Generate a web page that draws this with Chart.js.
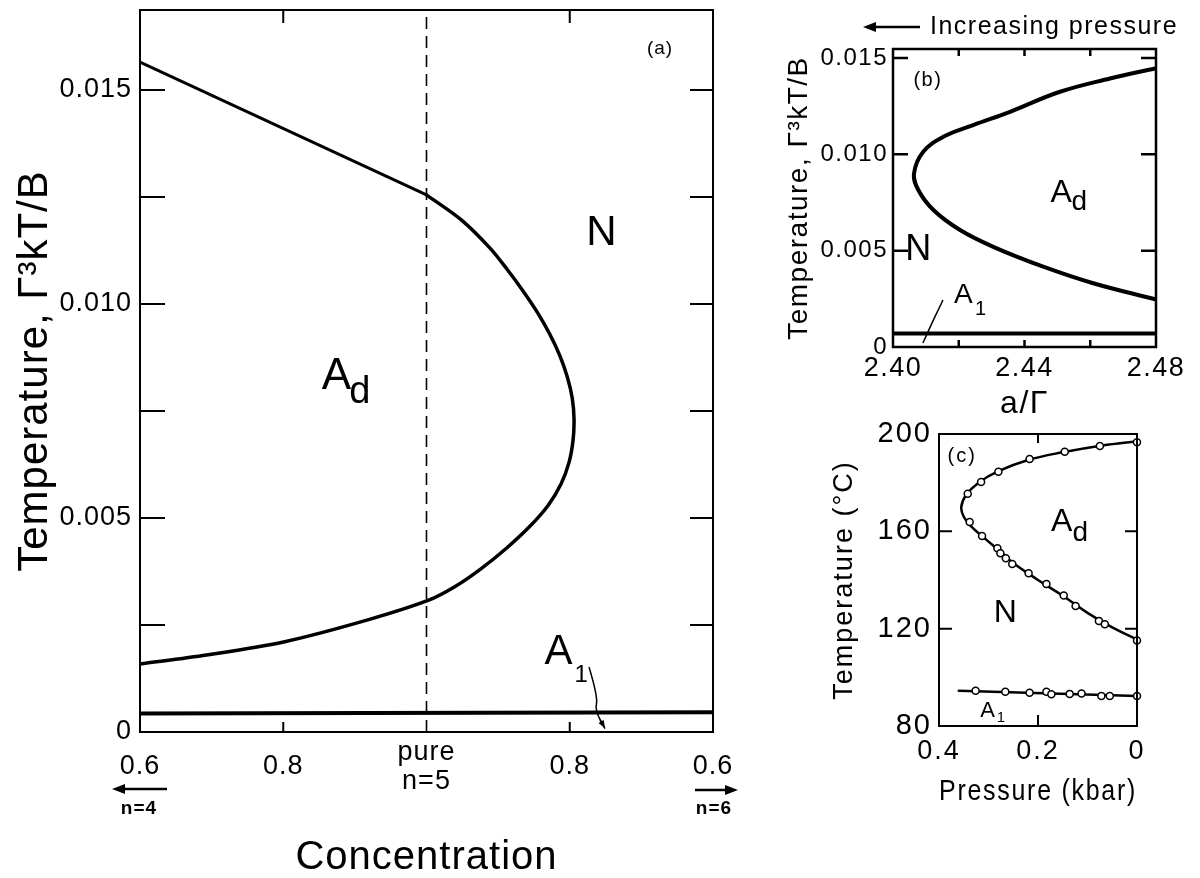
<!DOCTYPE html>
<html><head><meta charset="utf-8">
<script src="https://cdn.jsdelivr.net/npm/chart.js@4.4.0/dist/chart.umd.min.js"></script>
<style>
html,body{margin:0;padding:0;background:#fff;}
#wrap{position:relative;width:1200px;height:878px;overflow:hidden;background:#fff;}
.c{position:absolute;}
</style></head><body>
<div id="wrap">
<canvas id="ca" class="c" width="760" height="878" style="left:0;top:0"></canvas>
<canvas id="cb" class="c" width="440" height="420" style="left:760px;top:0"></canvas>
<canvas id="cc" class="c" width="440" height="458" style="left:760px;top:420px"></canvas>
</div>
<script>
// ---------- Panel (a): concentration (0.6 n=4 ... pure n=5 ... 0.6 n=6 mapped to 0.6..1.4) ----------
const aUpperC = [0.6, 1.0];
const aUpperT = [0.01565, 0.01255];
const aCurveC = [1.000, 1.049, 1.089, 1.113, 1.135, 1.155, 1.172, 1.186, 1.1965, 1.2035, 1.206, 1.2045, 1.199, 1.188, 1.170, 1.144, 1.112, 1.075, 1.040, 1.003, 0.918, 0.802, 0.693, 0.6];
const aCurveT = [0.01255, 0.01196, 0.0113, 0.0108, 0.0103, 0.0098, 0.0093, 0.0088, 0.0083, 0.0078, 0.0073, 0.0068, 0.0063, 0.0058, 0.0053, 0.0048, 0.0043, 0.0038, 0.0034, 0.00308, 0.00262, 0.00211, 0.0018, 0.00159];
const aA1C = [0.6, 1.4];
const aA1T = [0.00043, 0.00046];
const aPureC = [1.0, 1.0];
const aPureT = [0, 0.01687];
const aYTicks = [0, 0.005, 0.010, 0.015];
const aYLabels = ['0', '0.005', '0.010', '0.015'];
const aYMinor = [0.0025, 0.005, 0.0075, 0.010, 0.0125, 0.015];
const aXTicks = [0.6, 0.8, 1.0, 1.2, 1.4];
const aXLabels = ['0.6', '0.8', ['pure', 'n=5'], '0.8', '0.6'];
const aXMinor = [0.8, 1.2];

// ---------- Panel (b): a/Gamma ----------
const bCurveA = [2.4797, 2.466, 2.4508, 2.4356, 2.4244, 2.4153, 2.4092, 2.4064, 2.4077, 2.4123, 2.4204, 2.4305, 2.4457, 2.4609, 2.4797];
const bCurveT = [0.01446, 0.01394, 0.01325, 0.01221, 0.01152, 0.01091, 0.01013, 0.00901, 0.00815, 0.00711, 0.00607, 0.0052, 0.00417, 0.00331, 0.00248];
const bA1A = [2.40, 2.48];
const bA1T = [0.0007, 0.0007];
const bYTicks = [0, 0.005, 0.010, 0.015];
const bYLabels = ['0', '0.005', '0.010', '0.015'];
const bXTicks = [2.40, 2.44, 2.48];
const bXLabels = ['2.40', '2.44', '2.48'];
const bXMinor = [2.42, 2.44, 2.46];

// ---------- Panel (c): pressure (kbar) vs temperature (C) ----------
const cCurveP = [0.0, 0.07, 0.15, 0.22, 0.28, 0.32, 0.345, 0.355, 0.35, 0.335, 0.31, 0.275, 0.25, 0.2, 0.15, 0.1, 0.05, 0.0];
const cCurveT = [197, 195.3, 192.5, 189.3, 184.7, 180, 175, 170, 166, 162, 157.5, 151.5, 147, 140, 133.5, 126.5, 120.5, 115.5];
const cPtsP = [0.0, 0.075, 0.146, 0.217, 0.28, 0.315, 0.342, 0.338, 0.313, 0.282, 0.276, 0.265, 0.252, 0.219, 0.183, 0.148, 0.124, 0.077, 0.065, 0.0];
const cPtsT = [196.6, 195.1, 192.7, 189.7, 184.5, 180.3, 175.4, 163.8, 158.1, 153.0, 151.0, 148.9, 146.6, 142.8, 138.4, 133.6, 129.3, 123.2, 121.8, 115.1];
const cA1LineP = [0.36, 0.0];
const cA1LineT = [94.5, 92.3];
const cA1PtsP = [0.326, 0.266, 0.217, 0.183, 0.173, 0.136, 0.112, 0.072, 0.055, 0.0];
const cA1PtsT = [94.5, 94.1, 93.7, 94.1, 93.0, 93.2, 93.4, 92.3, 92.3, 92.3];
const cYTicks = [80, 120, 160, 200];
const cYLabels = ['80', '120', '160', '200'];
const cYMinor = [120, 160];
const cXTicks = [0, 0.2, 0.4];
const cXLabels = ['0', '0.2', '0.4'];
const cXMinor = [0.2];

const FONT = "'Liberation Sans', Arial, sans-serif";
const zip = (xs, ys) => xs.map((v, i) => ({x: v, y: ys[i]}));

function arrow(ctx, x1, y1, x2, y2, head, half) {
  const ang = Math.atan2(y2 - y1, x2 - x1);
  ctx.beginPath();
  ctx.moveTo(x1, y1);
  ctx.lineTo(x2 - Math.cos(ang) * head * 0.6, y2 - Math.sin(ang) * head * 0.6);
  ctx.stroke();
  ctx.beginPath();
  ctx.moveTo(x2, y2);
  ctx.lineTo(x2 - Math.cos(ang) * head - Math.sin(ang) * half, y2 - Math.sin(ang) * head + Math.cos(ang) * half);
  ctx.lineTo(x2 - Math.cos(ang) * head + Math.sin(ang) * half, y2 - Math.sin(ang) * head - Math.cos(ang) * half);
  ctx.closePath();
  ctx.fill();
}

const framePlugin = {
  id: 'frame',
  beforeDraw(chart, args, o) {
    chart.ctx.letterSpacing = o.ls || '0px';
  },
  afterDatasetsDraw(chart, args, o) {
    const {ctx, chartArea: ca, scales: {x, y}} = chart;
    ctx.save();
    ctx.strokeStyle = '#000';
    ctx.fillStyle = '#000';
    ctx.lineWidth = o.lw;
    ctx.strokeRect(ca.left, ca.top, ca.right - ca.left, ca.bottom - ca.top);
    ctx.beginPath();
    (o.yTicks || []).forEach(v => {
      const py = y.getPixelForValue(v);
      if (o.yl) { ctx.moveTo(ca.left, py); ctx.lineTo(ca.left + o.yl, py); }
      if (o.yr) { ctx.moveTo(ca.right, py); ctx.lineTo(ca.right - o.yr, py); }
    });
    (o.xTicks || []).forEach(v => {
      const px = x.getPixelForValue(v);
      if (o.xb) { ctx.moveTo(px, ca.bottom); ctx.lineTo(px, ca.bottom - o.xb); }
      if (o.xt) { ctx.moveTo(px, ca.top); ctx.lineTo(px, ca.top + o.xt); }
    });
    ctx.stroke();
    (o.notes || []).forEach(n => {
      const px = x.getPixelForValue(n.x), py = y.getPixelForValue(n.y);
      ctx.font = n.size + 'px ' + FONT;
      ctx.textAlign = 'center';
      ctx.textBaseline = 'middle';
      ctx.fillText(n.t, px, py);
      if (n.sub) {
        const w = ctx.measureText(n.t).width;
        ctx.font = n.subSize + 'px ' + FONT;
        ctx.textAlign = 'left';
        ctx.fillText(n.sub, px + w / 2 + (n.dx || 0), py + (n.dy || 0));
      }
    });
    (o.paths || []).forEach(p => {
      const pts = p.pts.map(q => [x.getPixelForValue(q[0]), y.getPixelForValue(q[1])]);
      ctx.lineWidth = p.lw || 1.5;
      ctx.beginPath();
      ctx.moveTo(pts[0][0], pts[0][1]);
      for (let i = 1; i < pts.length - 1; i++) {
        const mx = (pts[i][0] + pts[i + 1][0]) / 2, my = (pts[i][1] + pts[i + 1][1]) / 2;
        ctx.quadraticCurveTo(pts[i][0], pts[i][1], mx, my);
      }
      const L = pts[pts.length - 1];
      ctx.lineTo(L[0], L[1]);
      ctx.stroke();
      if (p.arrow) {
        const P = pts[pts.length - 2];
        arrow(ctx, P[0] + (L[0] - P[0]) * 0.5, P[1] + (L[1] - P[1]) * 0.5, L[0], L[1], 8, 3);
      }
    });
    ctx.restore();
  }
};

const extraA = {
  id: 'extraA',
  afterDraw(chart) {
    const {ctx, chartArea: ca, scales: {x}} = chart;
    const l = x.getPixelForValue(aXTicks[0]), r = x.getPixelForValue(aXTicks[aXTicks.length - 1]);
    ctx.save();
    ctx.strokeStyle = '#000'; ctx.fillStyle = '#000'; ctx.lineWidth = 2.5;
    arrow(ctx, l + 27, ca.bottom + 57, l - 28, ca.bottom + 57, 13, 5);
    arrow(ctx, r - 18, ca.bottom + 58, r + 25, ca.bottom + 58, 13, 5);
    ctx.font = 'bold 19px ' + FONT;
    ctx.textAlign = 'center'; ctx.textBaseline = 'middle';
    ctx.fillText('n=4', l - 1, ca.bottom + 77);
    ctx.fillText('n=6', r + 1, ca.bottom + 77);
    ctx.restore();
  }
};

const extraB = {
  id: 'extraB',
  afterDraw(chart) {
    const {ctx, chartArea: ca} = chart;
    ctx.save();
    ctx.strokeStyle = '#000'; ctx.fillStyle = '#000'; ctx.lineWidth = 2.5;
    arrow(ctx, ca.left + 27, ca.top - 22, ca.left - 30, ca.top - 22, 13, 5);
    ctx.font = '25px ' + FONT;
    ctx.textAlign = 'left'; ctx.textBaseline = 'middle';
    ctx.fillText('Increasing pressure', ca.left + 37, ca.top - 22);
    ctx.restore();
  }
};

function axisX(opts) {
  return {
    type: 'linear', min: opts.min, max: opts.max, reverse: !!opts.reverse,
    grid: {display: false, drawTicks: false}, border: {display: false},
    afterBuildTicks: s => { s.ticks = opts.ticks.map(v => ({value: v})); },
    afterFit: s => { s.height = opts.h; s.paddingLeft = 0; s.paddingRight = 0; },
    ticks: {
      autoSkip: false, maxRotation: 0, minRotation: 0, padding: opts.pad, color: '#000',
      crossAlign: opts.cross || 'near',
      font: {family: FONT, size: opts.fs, lineHeight: opts.lh || 1.04},
      callback: v => opts.labels[opts.ticks.indexOf(v)]
    },
    title: {display: true, text: opts.title, color: '#000', font: {family: FONT, size: opts.ts, lineHeight: 1}, padding: {top: 0, bottom: opts.tp || 0}}
  };
}
function axisY(opts) {
  return {
    type: 'linear', min: opts.min, max: opts.max,
    grid: {display: false, drawTicks: false}, border: {display: false},
    afterBuildTicks: s => { s.ticks = opts.ticks.map(v => ({value: v})); },
    afterFit: s => { s.width = opts.w; s.paddingTop = 0; s.paddingBottom = 0; },
    ticks: {
      autoSkip: false, padding: opts.pad, color: '#000',
      font: {family: FONT, size: opts.fs, lineHeight: 1.1},
      callback: v => opts.labels[opts.ticks.indexOf(v)]
    },
    title: {display: true, text: opts.title, color: '#000', font: {family: FONT, size: opts.ts, lineHeight: 1}, padding: {top: opts.tp, bottom: 0}}
  };
}
const lineDs = (data, w, extra) => Object.assign({data, showLine: true, borderColor: '#000', borderWidth: w, pointRadius: 0, tension: 0, borderCapStyle: 'round', borderJoinStyle: 'round', fill: false}, extra || {});

// ---------- Chart (a) ----------
new Chart(document.getElementById('ca'), {
  type: 'scatter',
  data: {datasets: [
    lineDs(zip(aUpperC, aUpperT), 3),
    lineDs(zip(aCurveC, aCurveT), 3.5, {tension: 0.3}),
    lineDs(zip(aA1C, aA1T), 4),
    lineDs(zip(aPureC, aPureT), 1.6, {borderDash: [12, 7], borderCapStyle: 'butt'})
  ]},
  options: {
    responsive: false, animation: false, events: [],
    layout: {padding: {top: 10, right: 47, left: 0, bottom: 0}},
    plugins: {
      legend: {display: false}, tooltip: {enabled: false},
      frame: {
        ls: '1px', lw: 2, yTicks: aYMinor, yl: 25, yr: 23, xTicks: aXMinor, xt: 13, xb: 10,
        notes: [
          {t: 'A', sub: 'd', x: 0.875, y: 0.00829, size: 44, subSize: 38, dx: -3, dy: 15},
          {t: 'N', x: 1.245, y: 0.01166, size: 42},
          {t: 'A', sub: '1', x: 1.185, y: 0.00187, size: 42, subSize: 24, dx: 1, dy: 23},
          {t: '(a)', x: 1.326, y: 0.01596, size: 19}
        ],
        paths: [{pts: [[1.2269, 0.00152], [1.2394, 0.00082], [1.2352, 0.00051], [1.2492, 0.00008]], arrow: true, lw: 1.5}]
      }
    },
    scales: {
      x: axisX({min: 0.6, max: 1.4, ticks: aXTicks, labels: aXLabels, h: 146, pad: 21, fs: 27, cross: 'center', title: 'Concentration', ts: 40}),
      y: axisY({min: 0, max: 0.01687, ticks: aYTicks, labels: aYLabels, w: 140, pad: 8, fs: 27, title: 'Temperature, Γ³kT/B', ts: 42, tp: 14})
    }
  },
  plugins: [framePlugin, extraA]
});

// ---------- Chart (b) ----------
new Chart(document.getElementById('cb'), {
  type: 'scatter',
  data: {datasets: [
    lineDs(zip(bCurveA, bCurveT), 4, {tension: 0.4}),
    lineDs(zip(bA1A, bA1T), 4)
  ]},
  options: {
    responsive: false, animation: false, events: [],
    layout: {padding: {top: 49, right: 44, left: 0, bottom: 0}},
    plugins: {
      legend: {display: false}, tooltip: {enabled: false},
      frame: {
        ls: '1.5px', lw: 2.5, yTicks: [0.005, 0.010, 0.015], yl: 15, yr: 15, xTicks: bXMinor, xt: 7, xb: 7,
        notes: [
          {t: '(b)', x: 2.4106, y: 0.01386, size: 20},
          {t: 'A', sub: 'd', x: 2.4514, y: 0.00799, size: 32, subSize: 28, dx: -2, dy: 9},
          {t: 'N', x: 2.4079, y: 0.00503, size: 36},
          {t: 'A', sub: '1', x: 2.4216, y: 0.0027, size: 28, subSize: 20, dx: 1, dy: 14}
        ],
        paths: [{pts: [[2.4152, 0.00244], [2.4140, 0.00200], [2.4128, 0.00160], [2.4091, 0.00021]], arrow: false, lw: 1.5}]
      }
    },
    scales: {
      x: axisX({min: 2.40, max: 2.48, ticks: bXTicks, labels: bXLabels, h: 73, pad: 8, fs: 27, title: 'a/Γ', ts: 32}),
      y: axisY({min: 0, max: 0.01547, ticks: bYTicks, labels: bYLabels, w: 133, pad: 5, fs: 24, title: 'Temperature, Γ³kT/B', ts: 28, tp: 25})
    }
  },
  plugins: [framePlugin, extraB]
});

// ---------- Chart (c) ----------
new Chart(document.getElementById('cc'), {
  type: 'scatter',
  data: {datasets: [
    {data: zip(cPtsP, cPtsT), pointRadius: 3.5, pointBackgroundColor: '#fff', pointBorderColor: '#000', pointBorderWidth: 1.5, clip: false},
    {data: zip(cA1PtsP, cA1PtsT), pointRadius: 3.5, pointBackgroundColor: '#fff', pointBorderColor: '#000', pointBorderWidth: 1.5, clip: false},
    lineDs(zip(cCurveP, cCurveT), 2.5, {tension: 0.4}),
    lineDs(zip(cA1LineP, cA1LineT), 2.5)
  ]},
  options: {
    responsive: false, animation: false, events: [],
    layout: {padding: {top: 14, right: 63, left: 0, bottom: 72}},
    plugins: {
      legend: {display: false}, tooltip: {enabled: false},
      frame: {
        ls: '2px', lw: 2, yTicks: cYMinor, yl: 13, yr: 12, xTicks: cXMinor, xt: 9, xb: 11,
        notes: [
          {t: '(c)', x: 0.353, y: 190.6, size: 20},
          {t: 'A', sub: 'd', x: 0.150, y: 163.8, size: 32, subSize: 28, dx: -2, dy: 11},
          {t: 'N', x: 0.264, y: 126.4, size: 32},
          {t: 'A', sub: '1', x: 0.300, y: 86.2, size: 22, subSize: 15, dx: 0, dy: 7}
        ]
      }
    },
    scales: {
      x: axisX({min: 0, max: 0.4, reverse: true, ticks: cXTicks, labels: cXLabels, h: 80, pad: 12, fs: 27, title: 'Pressure (kbar)', ts: 29}),
      y: axisY({min: 80, max: 200, ticks: cYTicks, labels: cYLabels, w: 179, pad: 7, fs: 29, title: 'Temperature (°C)', ts: 27, tp: 71})
    }
  },
  plugins: [framePlugin]
});
</script>
</body></html>
